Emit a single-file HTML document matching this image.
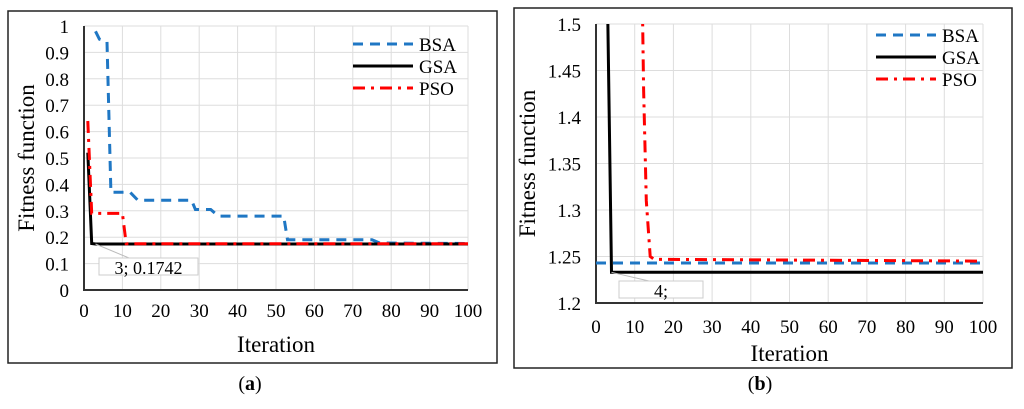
<!DOCTYPE html>
<html><head><meta charset="utf-8"><style>
body{margin:0;background:#fff;width:1024px;height:404px;overflow:hidden}
svg{font-family:"Liberation Serif",serif}
</style></head><body>
<svg id="s" width="1024" height="404"></svg>
<script>
const xTicks=[0,10,20,30,40,50,60,70,80,90,100];
const yTicksA=[0,0.1,0.2,0.3,0.4,0.5,0.6,0.7,0.8,0.9,1];
const yTicksB=[1.2,1.25,1.3,1.35,1.4,1.45,1.5];
const bsaA_x=[3,4,6,7,8,12,14,28,29,33,35,52,53,75,77,100];
const bsaA_y=[0.98,0.95,0.94,0.37,0.37,0.37,0.34,0.34,0.305,0.305,0.28,0.28,0.19,0.19,0.178,0.176];
const gsaA_x=[1,2,3,100];
const gsaA_y=[0.52,0.176,0.1742,0.1742];
const psoA_x=[1,2,10,11,100];
const psoA_y=[0.64,0.29,0.29,0.175,0.175];
const bsaB_x=[0,100];
const bsaB_y=[1.243,1.243];
const gsaB_x=[3,4,100];
const gsaB_y=[1.52,1.233,1.233];
const psoB_x=[12,12.3,13,14,15,100];
const psoB_y=[1.52,1.43,1.31,1.25,1.247,1.245];
const NS="http://www.w3.org/2000/svg";
const svg=document.getElementById('s');
function el(t,a,p){const e=document.createElementNS(NS,t);for(const k in a)e.setAttribute(k,a[k]);(p||svg).appendChild(e);return e;}
function panel(cfg){
 const g=el('g',{});
 
 
 const fr=el('rect',{x:cfg.fx,y:cfg.fy,width:cfg.fw,height:cfg.fh,fill:'none',stroke:'#222','stroke-width':1.5},g);
 
 
 const X=v=>cfg.x0+(v-0)/100*(cfg.x1-cfg.x0);
 const Y=v=>cfg.y0+(v-cfg.ymin)/(cfg.ymax-cfg.ymin)*(cfg.y1-cfg.y0);
 xTicks.forEach(t=>{
  if(t>0){const l=el('line',{x1:X(t),x2:X(t),y1:cfg.y0,y2:cfg.y1,stroke:'#ddd'},g);
  
  }
  const tx=el('text',{x:X(t),y:cfg.y0+cfg.xlo,'text-anchor':'middle','font-size':19},g);tx.textContent=t;
  
  
 });
 cfg.yt.forEach(t=>{
  if(t>cfg.ymin){const l=el('line',{x1:cfg.x0,x2:cfg.x1,y1:Y(t),y2:Y(t),stroke:'#ddd'},g);
  
  }
  const tx=el('text',{x:cfg.x0-15,y:Y(t)+7,'text-anchor':'end','font-size':19},g);tx.textContent=String(t);
  
  
 });
 el('path',{d:`M${cfg.x0},${cfg.y1}V${cfg.y0}H${cfg.x1}`,fill:'none',stroke:'#333','stroke-width':2},g);
 const cid='c'+cfg.name;
 const cp=el('clipPath',{id:cid},g);el('rect',{x:cfg.x0,y:cfg.y1,width:cfg.x1-cfg.x0+2,height:cfg.y0-cfg.y1},cp);
 function series(xs,ys,col,dash,name,w){
  const d=xs.map((x,i)=>(i?'L':'M')+X(x).toFixed(1)+','+Y(ys[i]).toFixed(1)).join('');
  const p=el('path',{d,fill:'none',stroke:col,'stroke-width':w,'stroke-dasharray':dash,'clip-path':`url(#${cid})`},g);
  
  
 }
 series(cfg.bx,cfg.by,'#1f77c4','10,7','bsa-line',3);
 series(cfg.gx,cfg.gy,'#000','','gsa-line',3);
 series(cfg.px,cfg.py,'#ff0000','12,6,3,6','pso-line',3);
 const gx=X(cfg.gx[cfg.ann]),gy=Y(cfg.gy[cfg.ann]);
 el('line',{x1:gx,y1:gy,x2:cfg.bx0+30,y2:cfg.by0,stroke:'#bbb'},g);
 const ar=el('rect',{x:cfg.bx0,y:cfg.by0,width:cfg.bw,height:17,fill:'#fff',stroke:'#ccc'},g);
 
 
 const at=el('text',{x:cfg.bx0+cfg.bw/2,y:cfg.by0+16,'text-anchor':'middle','font-size':18},g);at.textContent=cfg.annText;
 
 
 const L=[['BSA','#1f77c4','10,7'],['GSA','#000',''],['PSO','#ff0000','12,6,3,6']];
 L.forEach((e,i)=>{
  const ly=cfg.ly+i*22;
  const ln=el('line',{x1:cfg.lx,x2:cfg.lx+60,y1:ly,y2:ly,stroke:e[1],'stroke-width':3,'stroke-dasharray':e[2]},g);
  
  
  const t=el('text',{x:cfg.lx+66,y:ly+7,'font-size':19},g);t.textContent=e[0];
  
  
 });
 const xt=el('text',{x:(cfg.x0+cfg.x1)/2,y:cfg.xty,'text-anchor':'middle','font-size':23},g);xt.textContent='Iteration';
 
 
 const yt=el('text',{x:0,y:0,'text-anchor':'middle','font-size':23,transform:`translate(${cfg.ytx},${(cfg.y0+cfg.y1)/2}) rotate(-90)`},g);yt.textContent=cfg.ytitle;
 
 
 const cap=el('text',{x:cfg.capx,y:390,'text-anchor':'middle','font-size':20},g);cap.innerHTML=cfg.cap;
 
 
}
panel({name:'chart-a',fx:8,fy:11,fw:489,fh:352,x0:84,x1:468,y0:290,y1:26,ymin:0,ymax:1,yt:yTicksA,
 bx:bsaA_x,by:bsaA_y,gx:gsaA_x,gy:gsaA_y,px:psoA_x,py:psoA_y,ann:2,annText:'3; 0.1742',bx0:99,by0:258,bw:99,
 lx:353,ly:44,xty:352,ytx:34,ytitle:'Fitness  function',capx:250,cap:'(<tspan font-weight="bold">a</tspan>)',xlo:27});
panel({name:'chart-b',fx:514,fy:8,fw:498,fh:360,x0:596,x1:983,y0:303,y1:24,ymin:1.2,ymax:1.5,yt:yTicksB,
 bx:bsaB_x,by:bsaB_y,gx:gsaB_x,gy:gsaB_y,px:psoB_x,py:psoB_y,ann:1,annText:'4;',bx0:619,by0:281,bw:84,
 lx:876,ly:35,xty:361,ytx:535,ytitle:'Fitness function',capx:760,cap:'(<tspan font-weight="bold">b</tspan>)',xlo:30});
</script>
</body></html>
